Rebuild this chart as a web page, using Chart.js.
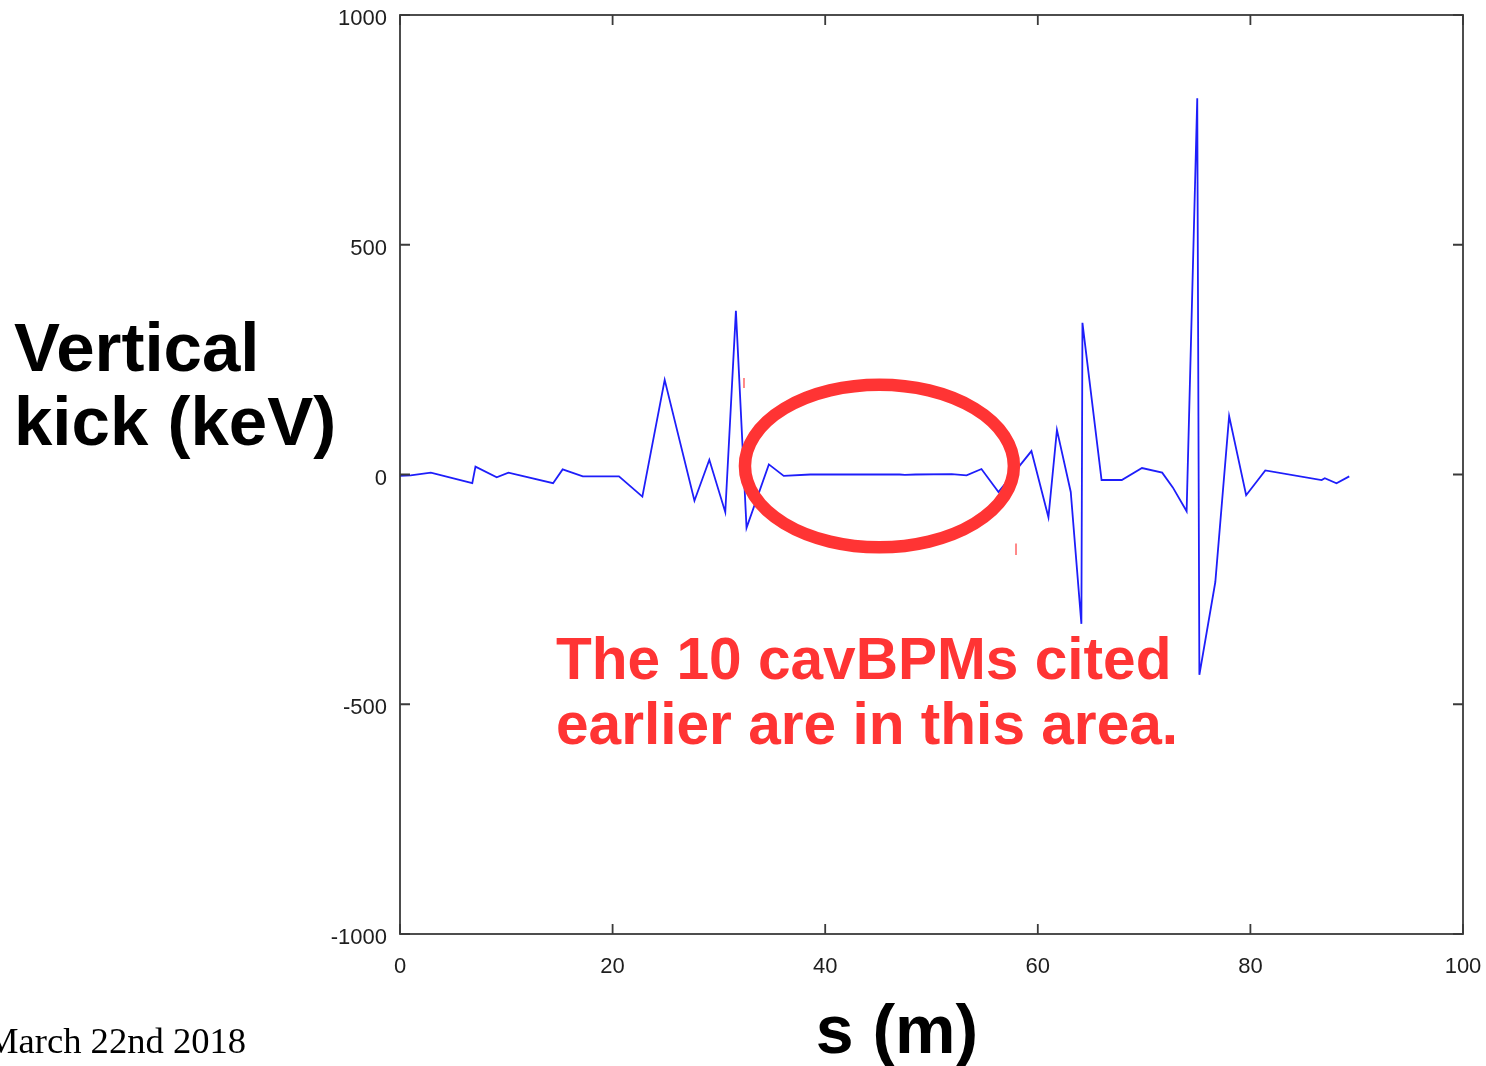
<!DOCTYPE html>
<html>
<head>
<meta charset="utf-8">
<title>Vertical kick along s</title>
<script src="https://cdn.jsdelivr.net/npm/chart.js@4.4.1/dist/chart.umd.min.js"></script>
<style>
    html, body { margin: 0; padding: 0; background: #fff; }
    #wrap { position: relative; width: 1486px; height: 1066px; overflow: hidden; }
    #wrap canvas { position: absolute; left: 0; top: 0; }
    .txt { position: absolute; white-space: nowrap; font-family: "Liberation Sans", Arial, sans-serif; font-weight: bold; color: #000; }
    #ylabel { left: 14px; top: 311px; font-size: 69px; line-height: 74px; }
    #xlabel { left: 897px; top: 992px; font-size: 68px; line-height: 74px; transform: translateX(-50%); }
    #note { left: 556px; top: 626px; font-size: 58.6px; line-height: 65px; color: rgb(255, 52, 52); }
    #date { left: -14px; top: 1021px; font-family: "Liberation Serif", "Times New Roman", serif; font-weight: normal; font-size: 36.6px; line-height: 40px; }
</style>
</head>
<body>
<div id="wrap">
    <canvas id="kickChart"></canvas>
    <div class="txt" id="ylabel">Vertical<br>kick (keV)</div>
    <div class="txt" id="xlabel">s (m)</div>
    <div class="txt" id="note">The 10 cavBPMs cited<br>earlier are in this area.</div>
    <div class="txt" id="date">March 22nd 2018</div>
</div>
<script>
// ======================= DONNÉES =======================

// position along the line (m)
const sPositions = [
    0, 1.0, 2.9, 6.8, 7.1, 9.1, 10.2, 14.4, 15.3, 17.2, 20.6, 22.8,
    24.9, 27.7, 29.1, 30.6, 31.6, 32.6, 34.7, 36.1, 38.6, 47.0, 47.5, 48.5,
    51.9, 53.3, 54.7, 56.3, 59.4, 61.0, 61.8, 63.1, 64.1, 64.2, 66.0, 67.9,
    69.8, 71.7, 72.7, 74.0, 75.0, 75.2, 76.7, 78.0, 79.6, 81.4, 86.7, 87.0,
    88.1, 89.3
];

// vertical kick (keV)
const verticalKicks = [
    -3, -2, 4, -19, 17, -6, 4, -19, 11, -4, -4, -48,
    206, -57, 32, -82, 356, -116, 22, -3, 0, 0, -1, 0,
    1, -2, 12, -38, 51, -93, 97, -38, -325, 330, -12, -12,
    14, 4, -28, -80, 819, -436, -234, 127, -45, 9, -12, -8,
    -19, -4
];

const xTicks = [0, 20, 40, 60, 80, 100];
const yTicks = [-1000, -500, 0, 500, 1000];

// red circle around the cavBPM zone: centre (m, keV) and radii (m, keV)
const zoneCenter = [45.1, 18.5];
const zoneRadius = [12.65, 177];

// two small red marks left on the slide
const redMarks = [
    [32.36, 210, 188],
    [57.95, -150, -175]
];

// ======================= PLUGINS =======================

// box around the plot with inward ticks on the four sides
const framePlugin = {
    id: 'frame',
    afterDatasetsDraw(chart) {
        const { ctx, chartArea: a, scales } = chart;
        const len = 10;
        ctx.save();
        ctx.strokeStyle = '#3a3a3a';
        ctx.lineWidth = 1.8;
        ctx.strokeRect(a.left, a.top, a.right - a.left, a.bottom - a.top);
        ctx.beginPath();
        xTicks.forEach(v => {
            const px = scales.x.getPixelForValue(v);
            ctx.moveTo(px, a.bottom); ctx.lineTo(px, a.bottom - len);
            ctx.moveTo(px, a.top); ctx.lineTo(px, a.top + len);
        });
        yTicks.forEach(v => {
            const py = scales.y.getPixelForValue(v);
            ctx.moveTo(a.left, py); ctx.lineTo(a.left + len, py);
            ctx.moveTo(a.right, py); ctx.lineTo(a.right - len, py);
        });
        ctx.stroke();
        ctx.restore();
    }
};

const zonePlugin = {
    id: 'zone',
    afterDatasetsDraw(chart) {
        const { ctx, scales } = chart;
        const cx = scales.x.getPixelForValue(zoneCenter[0]);
        const cy = scales.y.getPixelForValue(zoneCenter[1]);
        const rx = scales.x.getPixelForValue(zoneCenter[0] + zoneRadius[0]) - cx;
        const ry = cy - scales.y.getPixelForValue(zoneCenter[1] + zoneRadius[1]);
        ctx.save();
        ctx.strokeStyle = 'rgb(255, 52, 52)';
        ctx.lineWidth = 12.5;
        ctx.beginPath();
        ctx.ellipse(cx, cy, rx, ry, 0, 0, Math.PI * 2);
        ctx.stroke();

        ctx.strokeStyle = 'rgba(255, 60, 60, 0.8)';
        ctx.lineWidth = 1.5;
        ctx.beginPath();
        redMarks.forEach(m => {
            const px = scales.x.getPixelForValue(m[0]);
            ctx.moveTo(px, scales.y.getPixelForValue(m[1]));
            ctx.lineTo(px, scales.y.getPixelForValue(m[2]));
        });
        ctx.stroke();
        ctx.restore();
    }
};

// fixed axis sizes, no extra room for labels at the ends
function fixAxis(scale, size) {
    if (scale.isHorizontal()) scale.height = size;
    else scale.width = size;
    scale.paddingLeft = 0;
    scale.paddingRight = 0;
    scale.paddingTop = 0;
    scale.paddingBottom = 0;
}

// ======================= GRAPHIQUE =======================

const points = sPositions.map((s, i) => ({ x: s, y: verticalKicks[i] }));
const tickFont = { family: '"Liberation Sans", Arial, sans-serif', size: 22 };

new Chart(document.getElementById('kickChart'), {
    type: 'line',
    data: {
        datasets: [{
            data: points,
            borderColor: 'rgb(30, 30, 250)',
            borderWidth: 1.8,
            pointRadius: 0,
            tension: 0,
            fill: false
        }]
    },
    options: {
        responsive: true,
        maintainAspectRatio: false,
        animation: false,
        layout: { padding: { left: 0, top: 15, right: 23, bottom: 0 } },
        plugins: { legend: { display: false }, tooltip: { enabled: false } },
        scales: {
            x: {
                type: 'linear',
                min: 0,
                max: 100,
                grid: { display: false, drawTicks: false },
                border: { display: false },
                afterFit: scale => fixAxis(scale, 132),
                afterBuildTicks: scale => { scale.ticks = xTicks.map(v => ({ value: v })); },
                ticks: { font: tickFont, color: '#1e1e1e', padding: 20, maxRotation: 0, callback: v => String(v) }
            },
            y: {
                type: 'linear',
                min: -1000,
                max: 1000,
                grid: { display: false, drawTicks: false },
                border: { display: false },
                afterFit: scale => fixAxis(scale, 400),
                afterBuildTicks: scale => { scale.ticks = yTicks.map(v => ({ value: v })); },
                ticks: { font: tickFont, color: '#1e1e1e', padding: 13, labelOffset: 4, callback: v => String(v) }
            }
        }
    },
    plugins: [framePlugin, zonePlugin]
});
</script>
</body>
</html>
